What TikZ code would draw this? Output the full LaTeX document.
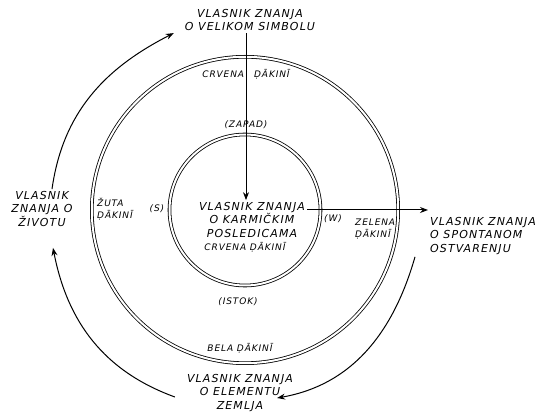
\documentclass[tikz,border=0pt]{standalone}
\usepackage{fontspec}
\setmainfont{DejaVu Sans}[LetterSpace=10]
\usetikzlibrary{arrows.meta}

\begin{document}
\begin{tikzpicture}[
  x=1pt, y=1pt,
  owner/.style={font=\fontsize{11}{13.5}\selectfont\itshape, align=center, inner sep=2pt},
  dakini/.style={font=\fontsize{9}{12}\selectfont\itshape, align=center, inner sep=2pt},
  ring/.style={draw, double, double distance=2pt, line width=0.8pt},
  arrow/.style={-{Stealth[length=8pt, width=6pt]}, line width=1pt},
]
  \useasboundingbox (0,0) rectangle (547,412);
  \coordinate (ctr) at (245,202);

  % Circles
  \draw[ring] (ctr) circle[radius=153.2];
  \draw[ring] (ctr) circle[radius=75.5];

  % Owners of knowledge
  \node[owner] (simbol) at (250,392) {VLASNIK ZNANJA\\O VELIKOM SIMBOLU};
  \node[owner] (karma) at (252,192) {VLASNIK ZNANJA\\O KARMIČKIM\\POSLEDICAMA};
  \node[owner, align=left, anchor=west] (spont) at (428,176) {VLASNIK ZNANJA\\O SPONTANOM\\OSTVARENJU};
  \node[owner] (zivot) at (42,203) {VLASNIK\\ZNANJA O\\ŽIVOTU};
  \node[owner] (zemlja) at (240,19) {VLASNIK ZNANJA\\O ELEMENTU\\ZEMLJA};

  % Dakinis and directions
  \node[dakini] (crvout) at (246,338) {CRVENA\hspace{10pt}ḌĀKINĪ};
  \node[dakini] (crvin) at (245,165) {CRVENA ḌĀKINĪ};
  \node[dakini, align=left, anchor=west] (zuta) at (95,203) {ŽUTA\\ḌĀKINĪ};
  \node[dakini, align=left, anchor=west] (zelena) at (353,183) {ZELENA\\ḌĀKINĪ};
  \node[dakini] (bela) at (240,64) {BELA ḌĀKINĪ};
  \node[dakini] (zapad) at (246,287) {(ZAPAD)};
  \node[dakini] (istok) at (238,110) {(ISTOK)};
  \node[dakini] (sever) at (157,203) {(S)};
  \node[dakini] (west) at (333,193) {(W)};

  \draw[arrow] ([xshift=-4pt]simbol.south) -- ([xshift=-4pt]simbol.south |- karma.north);
  \draw[arrow] ([yshift=10pt]karma.east) -- ([yshift=10pt]karma.east -| spont.west);

  % Outer cycle
  \draw[arrow] ([xshift=10pt]zivot.north) to[out=82, in=207] ([xshift=-9pt]simbol.south west);
  \draw[arrow] ([xshift=-13pt]spont.south west) to[out=-106, in=10] ([xshift=-18pt, yshift=-5pt]zemlja.east);
  \draw[arrow] ([xshift=-10pt, yshift=-4pt]zemlja.west) to[out=160, in=-79] ([xshift=11pt, yshift=-19pt]zivot.south);
\end{tikzpicture}
\end{document}
